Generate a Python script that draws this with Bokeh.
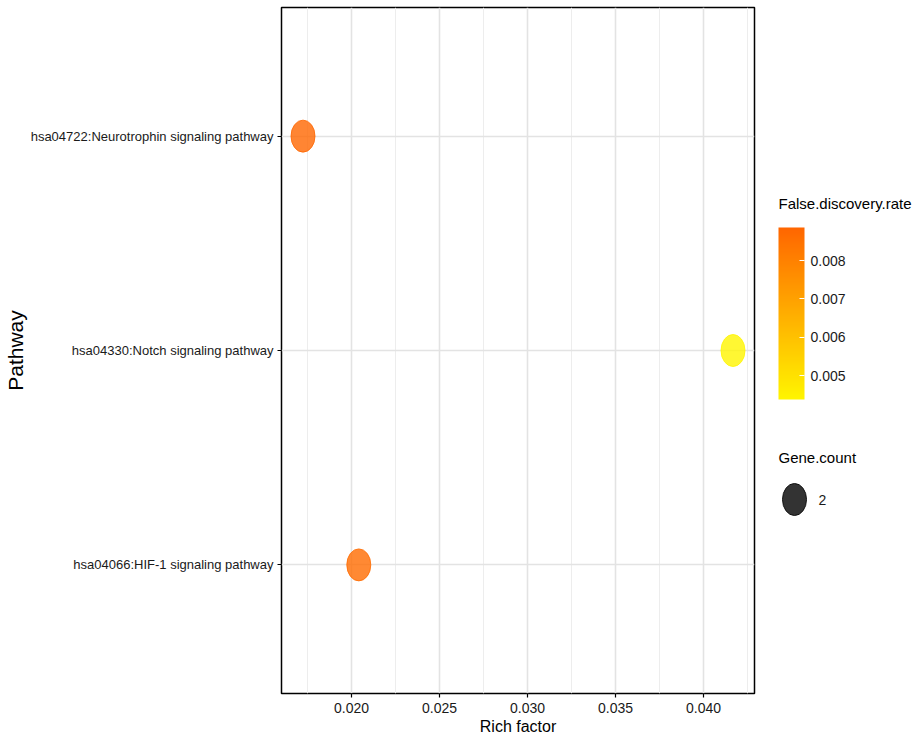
import numpy as np
from bokeh.plotting import figure
from bokeh.layouts import row
from bokeh.models import (ColumnDataSource, FactorRange, Range1d, LinearColorMapper, ColorBar,
                          FixedTicker, PrintfTickFormatter, Label, Title)
from bokeh.core.properties import value
from bokeh.transform import transform
from bokeh.embed import file_html
from bokeh.resources import INLINE

# ---------------- data ----------------
pathways = ["hsa04066:HIF-1 signaling pathway",
            "hsa04330:Notch signaling pathway",
            "hsa04722:Neurotrophin signaling pathway"]
rich_factor = [0.02041, 0.04167, 0.01724]
fdr = [0.00870, 0.00438, 0.00886]
gene_count = [2, 2, 2]

x_ticks = [0.020, 0.025, 0.030, 0.035, 0.040]
x_minor = [0.0175, 0.0225, 0.0275, 0.0325, 0.0375, 0.0425]
fdr_ticks = [0.005, 0.006, 0.007, 0.008]

FONT = "Liberation Sans"

# palette yellow -> orange-red
def hex2rgb(h):
    h = h.lstrip("#")
    return tuple(int(h[i:i + 2], 16) for i in (0, 2, 4))
lo_c, hi_c = hex2rgb("#FFF500"), hex2rgb("#FF6600")
palette = []
for i in range(256):
    t = i / 255
    palette.append("#%02x%02x%02x" % tuple(int(round(a + (b - a) * t)) for a, b in zip(lo_c, hi_c)))

source = ColumnDataSource(dict(pathway=pathways, rich=rich_factor, fdr=fdr, count=gene_count))

span = max(rich_factor) - min(rich_factor)
x_range = Range1d(min(rich_factor) - 0.05 * span, max(rich_factor) + 0.05 * span)
y_range = FactorRange(factors=pathways, range_padding=0.1, range_padding_units="absolute")

p = figure(x_range=x_range, y_range=y_range, output_backend="svg", toolbar_location=None,
           frame_width=473, frame_height=686,
           min_border_left=276, min_border_right=2, min_border_top=0, min_border_bottom=46,
           background_fill_color="white", border_fill_color="white")
# small empty band above the frame
p.title = Title(text=" ", text_font_size="1px", standoff=4)

p.outline_line_color = "black"
p.outline_line_width = 1.5

# grids
p.xgrid.ticker = FixedTicker(ticks=x_ticks, minor_ticks=x_minor)
p.xgrid.grid_line_color = "#E3E3E3"
p.xgrid.grid_line_width = 1.6
p.xgrid.minor_grid_line_color = "#EDEDED"
p.xgrid.minor_grid_line_width = 1
p.ygrid.grid_line_color = "#E3E3E3"
p.ygrid.grid_line_width = 1.6

# axes
p.xaxis.ticker = FixedTicker(ticks=x_ticks)
p.xaxis.formatter = PrintfTickFormatter(format="%.3f")
for ax in (p.xaxis[0], p.yaxis[0]):
    ax.axis_line_color = None
    ax.major_tick_line_color = "black"
    ax.major_tick_line_width = 1.2
    ax.major_tick_out = 4
    ax.major_tick_in = 0
    ax.minor_tick_line_color = None
    ax.major_label_text_color = "#1a1a1a"
    ax.axis_label_text_color = "black"
    ax.axis_label_text_font_style = "normal"

p.xaxis.axis_label = "Rich factor"
p.xaxis.axis_label_text_font = FONT
p.xaxis.axis_label_text_font_size = "16px"
p.xaxis.major_label_text_font = FONT
p.xaxis.major_label_text_font_size = "14px"
p.xaxis.major_label_standoff = 5
p.xaxis.axis_label_standoff = 2

p.yaxis.axis_label = "Pathway"
p.yaxis.axis_label_text_font = FONT
p.yaxis.axis_label_text_font_size = "21px"
p.yaxis.major_label_text_font = FONT
p.yaxis.major_label_text_font_size = "13px"
p.yaxis.major_label_standoff = 4
p.yaxis.axis_label_standoff = 1

mapper = LinearColorMapper(palette=palette, low=min(fdr), high=max(fdr))

p.ellipse(x="rich", y="pathway", width=24, height=32, width_units="screen", height_units="screen",
          source=source, fill_color=transform("fdr", mapper), fill_alpha=0.8,
          line_color=transform("fdr", mapper), line_alpha=0.8)

# ---------------- legend panel (pixel coordinates, origin bottom-left) ----------------
LW, LH = 157, 742
lg = figure(x_range=Range1d(0, LW), y_range=Range1d(0, LH), output_backend="svg",
            toolbar_location=None, frame_width=LW, frame_height=LH,
            min_border=0, x_axis_type=None, y_axis_type=None)
lg.outline_line_color = None
lg.grid.visible = False

lg.add_layout(Label(x=22, y=546, text="False.discovery.rate", text_font=FONT, text_font_size="15px",
                    text_baseline="middle", text_align="left", text_color="black"))

cb = ColorBar(color_mapper=mapper, ticker=FixedTicker(ticks=fdr_ticks),
              formatter=PrintfTickFormatter(format="%.3f"), title=None,
              major_label_text_font=FONT, major_label_text_font_size="14px",
              major_label_text_color="#1a1a1a",
              major_tick_line_color="white", major_tick_line_width=1.2,
              major_tick_in=5, major_tick_out=0,
              minor_tick_line_color=None, bar_line_color=None,
              width=26, height=172, padding=0, label_standoff=6,
              background_fill_alpha=0, border_line_color=None,
              location=(22, 350))
lg.add_layout(cb, "center")

lg.add_layout(Label(x=22, y=292, text="Gene.count", text_font=FONT, text_font_size="15px",
                    text_baseline="middle", text_align="left", text_color="black"))

# Gene.count size key (one key per distinct count level), placed in the legend panel
KEY_X, KEY_Y = 38, 250
count_levels = sorted({str(c) for c in gene_count})
key_src = ColumnDataSource(dict(label=count_levels,
                                kx=[KEY_X] * len(count_levels),
                                ky=[KEY_Y - 40 * i for i in range(len(count_levels))]))
lg.ellipse(x="kx", y="ky", width=24, height=32, width_units="screen", height_units="screen",
           source=key_src, fill_color="#333333", line_color="#111111", line_width=1)
lg.text(x="kx", y="ky", text="label", x_offset=24, source=key_src,
        text_font=value(FONT), text_font_size="14px", text_color="#1a1a1a",
        text_baseline="middle", text_align="left")

layout = row(p, lg, spacing=0)
open("out.html", "w").write(file_html(layout, INLINE))
